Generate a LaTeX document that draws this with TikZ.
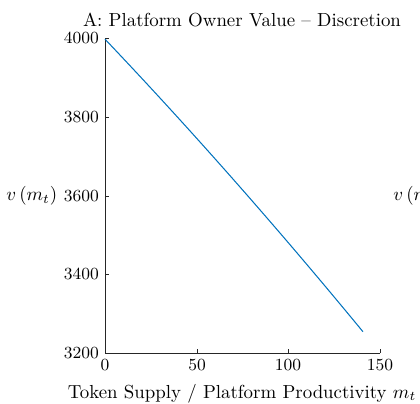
\documentclass[tikz,border=0pt]{standalone}
\usepackage{amsmath}
\usepackage{tikz}
\usepackage{xcolor}

\definecolor{lineblue}{rgb}{0,0.447,0.741}
\definecolor{axisgray}{rgb}{0.15,0.15,0.15}

\begin{document}
\begin{tikzpicture}[x=0.53pt, y=-0.53pt,
    ticklab/.style={font=\fontsize{9}{11}\selectfont, inner sep=1pt},
    axlab/.style={font=\fontsize{10}{12}\selectfont, inner sep=0pt}]
\useasboundingbox (0,0) rectangle (420,404);

% title and axis labels
\node[axlab, anchor=base] (title) at (242,26) {A: Platform Owner Value -- Discretion};
\node[axlab, anchor=base] (xlabel) at (242,398) {Token Supply / Platform Productivity $m_t$};
\node[axlab, anchor=west] (ylabel) at (6,196) {$v\,(m_t)$};
\node[axlab, anchor=west] (ylabelB) at (393,196) {$v\,(m_t)$};

% axes
\draw[axisgray, line width=0.5pt] (105,38) -- (105,353) -- (380,353);
\foreach \v/\y in {4000/38, 3800/117, 3600/196, 3400/274, 3200/353} {
  \draw[axisgray, line width=0.5pt] (105,\y) -- (109,\y);
  \node[ticklab, anchor=east] (ytick\v) at (101,\y) {\v};
}
\foreach \m/\x in {0/105, 50/197, 100/288, 150/380} {
  \draw[axisgray, line width=0.5pt] (\x,353) -- (\x,349);
  \node[ticklab, anchor=north] (xtick\m) at (\x,357) {\m};
}

% value curve
\begin{scope}[shift={(105,353)}, x=0.97167pt, y=0.20869pt]
\draw[lineblue, line width=0.55pt, domain=0:140.7, samples=50]
  plot (\x, {797 - 4.9*\x - 0.0027*\x*\x});
\end{scope}
\end{tikzpicture}
\end{document}
